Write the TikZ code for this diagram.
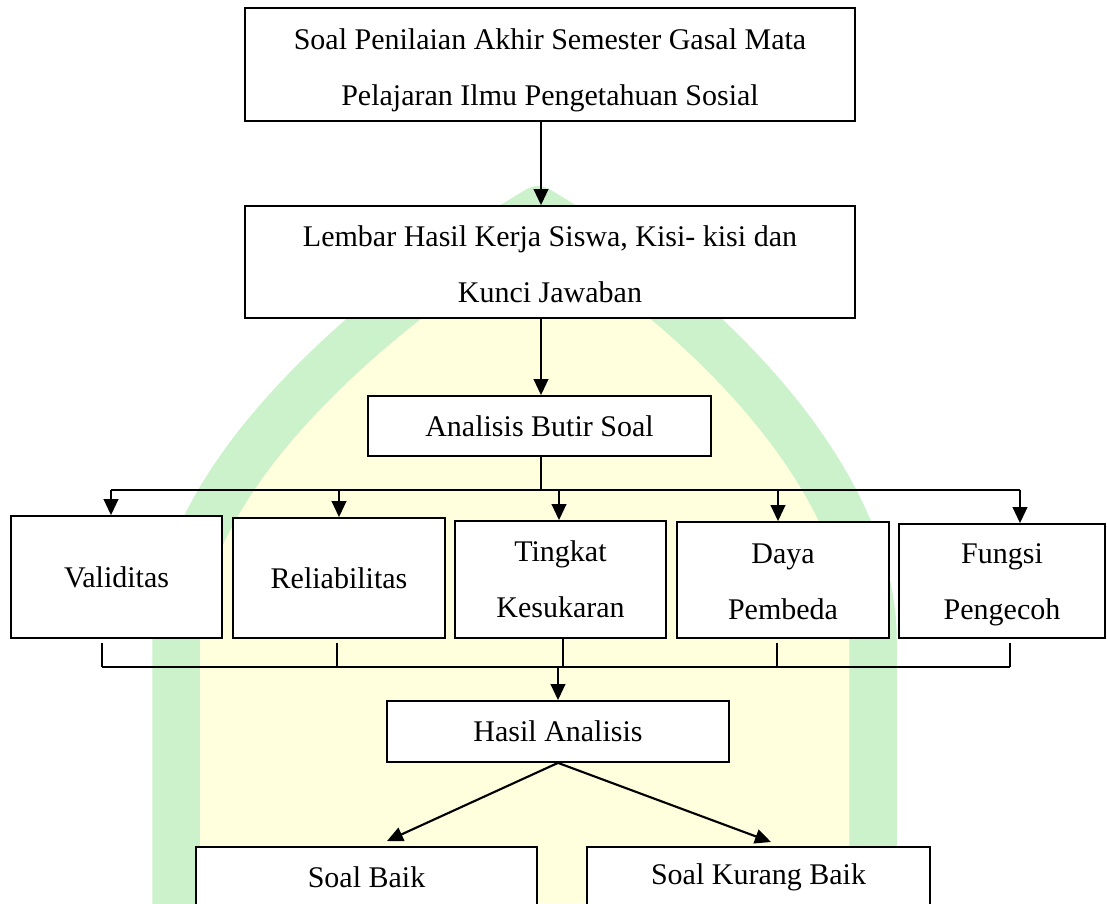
\documentclass[tikz,border=0pt]{standalone}
\usepackage{fontspec}
\setmainfont{Liberation Serif}
\usetikzlibrary{arrows.meta,calc}
\definecolor{wmgreen}{HTML}{CCF2CC}
\definecolor{wmyellow}{HTML}{FFFFDD}
\begin{document}
\begin{tikzpicture}[x=0.4pt,y=-0.4pt,
  box/.style={draw=black,line width=0.7pt,fill=white,inner sep=0pt,align=center,
    font=\fontsize{12}{22.4}\selectfont},
  arr/.style={line width=0.9pt,-{Triangle[length=6.4pt,width=5.8pt]}},
  thinline/.style={line width=0.5pt},
  busline/.style={line width=0.9pt}]
\useasboundingbox (0,0) rectangle (1107,903);
\clip (0,0) rectangle (1107,903);
\fill[white] (0,0) rectangle (1107,903);
% watermark
\fill[wmyellow] (176,903) -- (176,640) .. controls (176,480) and (370,310) .. (538,210)
  .. controls (706,310) and (873,480) .. (873,640) -- (873,903) -- cycle;
\draw[wmgreen,line width=19pt,line join=round] (176,910) -- (176,640) .. controls (176,480) and (370,310) .. (538,210)
  .. controls (706,310) and (873,480) .. (873,640) -- (873,910);
% nodes
\node[box,minimum width=244pt,minimum height=45.2pt] (b1) at (550,64.5)
  {\rule{0pt}{13pt}Soal Penilaian Akhir Semester Gasal Mata\\Pelajaran Ilmu Pengetahuan Sosial};
\node[box,minimum width=244pt,minimum height=44.8pt] (b2) at (550,262)
  {\rule{0pt}{10pt}Lembar Hasil Kerja Siswa, Kisi- kisi dan\\Kunci Jawaban};
\node[box,minimum width=137.2pt,minimum height=24pt] (b3) at (539.5,426)
  {Analisis Butir Soal};
\node[box,minimum width=84.4pt,minimum height=48.8pt] (v) at (116.5,577) {Validitas};
\node[box,minimum width=84.8pt,minimum height=48pt] (r) at (339,578) {Reliabilitas};
\node[box,minimum width=84.4pt,minimum height=46.8pt] (t) at (560.5,579.5) {Tingkat\\Kesukaran};
\node[box,minimum width=84.8pt,minimum height=46.4pt] (d) at (783,580) {\rule{0pt}{9.5pt}Daya\\Pembeda};
\node[box,minimum width=82.4pt,minimum height=45.6pt] (f) at (1002,581) {\rule{0pt}{11pt}Fungsi\\Pengecoh};
\node[box,minimum width=136.8pt,minimum height=24.4pt] (h) at (558,731.5) {Hasil Analisis};
\node[box,minimum width=136.4pt,minimum height=24.4pt] (sb) at (366.5,877.5) {Soal Baik};
\node[box,minimum width=137.2pt,minimum height=24.4pt] (sk) at (758.5,877.5) {Soal Kurang Baik};
% coordinates
\coordinate (s) at (541,0);
\coordinate (a1) at (111,490);
\coordinate (a2) at (339,490);
\coordinate (a3) at (559,490);
\coordinate (a4) at (778,490);
\coordinate (a5) at (1020,490);
\coordinate (c1) at (102,667);
\coordinate (c2) at (337,667);
\coordinate (c3) at (563,667);
\coordinate (c4) at (777,667);
\coordinate (c5) at (1010,667);
\coordinate (hx) at (558,667);
\coordinate (tl) at (387,841);
\coordinate (tr) at (771,842);
% connectors
\draw[arr] (b1.south -| s) -- (b2.north -| s);
\draw[arr] (b2.south -| s) -- (b3.north -| s);
\draw[thinline] (b3.south -| s) -- (s |- a1);
\draw[busline] (a1) -- (a5);
\draw[arr] (a1) -- (a1 |- v.north);
\draw[arr] (a2) -- (a2 |- r.north);
\draw[arr] (a3) -- (a3 |- t.north);
\draw[arr] (a4) -- (a4 |- d.north);
\draw[arr] (a5) -- (a5 |- f.north);
\draw[thinline] ($(c1 |- v.south)+(0,4)$) -- (c1);
\draw[thinline] ($(c2 |- r.south)+(0,4)$) -- (c2);
\draw[thinline] (c3 |- t.south) -- (c3);
\draw[thinline] ($(c4 |- d.south)+(0,4)$) -- (c4);
\draw[thinline] ($(c5 |- f.south)+(0,4)$) -- (c5);
\draw[busline] (c1) -- (c5);
\draw[arr] (hx) -- (hx |- h.north);
\draw[arr,line width=0.85pt] (h.south) -- (tl);
\draw[arr,line width=0.85pt] (h.south) -- (tr);
\end{tikzpicture}
\end{document}
